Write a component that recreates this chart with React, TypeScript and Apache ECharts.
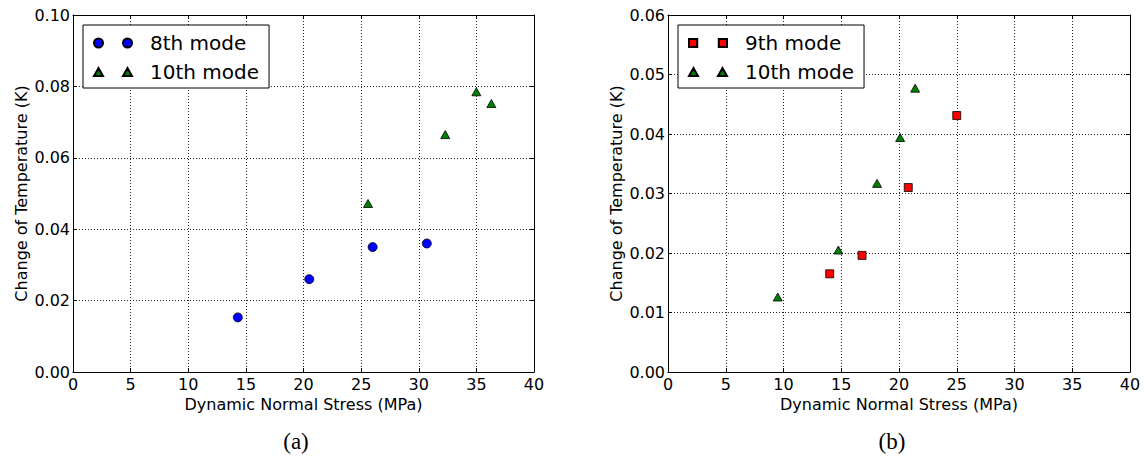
import React, { useEffect, useRef } from "react";
import * as echarts from "echarts";

// ---- data ----
const xTicksMax = 40;
const xInterval = 5;
const leftYMax = 0.1;
const leftYInterval = 0.02;
const rightYMax = 0.06;
const rightYInterval = 0.01;

const leftMode8: [number, number][] = [
  [14.3, 0.0153],
  [20.5, 0.026],
  [26.0, 0.035],
  [30.7, 0.036],
];
const leftMode10: [number, number][] = [
  [25.6, 0.0472],
  [32.3, 0.0665],
  [35.0, 0.0785],
  [36.3, 0.0752],
];
const rightMode9: [number, number][] = [
  [14.0, 0.0165],
  [16.8, 0.0196],
  [20.8, 0.031],
  [25.0, 0.0431],
];
const rightMode10: [number, number][] = [
  [9.5, 0.0126],
  [14.75, 0.0205],
  [18.1, 0.0317],
  [20.1, 0.0394],
  [21.4, 0.0477],
];

const xTitle = "Dynamic Normal Stress (MPa)";
const yTitle = "Change of Temperature (K)";
const captions = ["(a)", "(b)"];

const FONT = "DejaVu Sans";

const circlesIcon =
  "path://M0,4.5a4.5,4.5 0 1,0 9,0a4.5,4.5 0 1,0 -9,0M29,4.5a4.5,4.5 0 1,0 9,0a4.5,4.5 0 1,0 -9,0";
const trianglesIcon = "path://M0,8L4.5,0L9,8ZM29,8L33.5,0L38,8Z";
const squaresIcon = "path://M0.5,0h8v8h-8ZM29.5,0h8v8h-8Z";

function axisPair(gridIndex: number, yMax: number, yInterval: number) {
  const tick = { show: true, inside: true, length: 4, lineStyle: { color: "#000", width: 1 } };
  const line = { show: true, onZero: false, lineStyle: { color: "#000", width: 1 } };
  const split = { show: true, lineStyle: { color: "#222", width: 1, type: [1, 2] } };
  const labelStyle = { color: "#000", fontFamily: FONT, fontSize: 16 };
  const xs = [
    {
      type: "value",
      gridIndex,
      min: 0,
      max: xTicksMax,
      interval: xInterval,
      position: "bottom",
      axisLine: line,
      axisTick: tick,
      splitLine: split,
      axisLabel: { ...labelStyle, margin: 4 },
      name: xTitle,
      nameLocation: "middle",
      nameGap: 21,
      nameTextStyle: { ...labelStyle },
    },
    {
      type: "value",
      gridIndex,
      min: 0,
      max: xTicksMax,
      interval: xInterval,
      position: "top",
      axisLine: line,
      axisTick: tick,
      splitLine: { show: false },
      axisLabel: { show: false },
    },
  ];
  const ys = [
    {
      type: "value",
      gridIndex,
      min: 0,
      max: yMax,
      interval: yInterval,
      position: "left",
      axisLine: line,
      axisTick: tick,
      splitLine: split,
      axisLabel: { ...labelStyle, margin: 3, formatter: (v: number) => v.toFixed(2) },
      name: yTitle,
      nameLocation: "middle",
      nameGap: 44,
      nameTextStyle: { ...labelStyle },
    },
    {
      type: "value",
      gridIndex,
      min: 0,
      max: yMax,
      interval: yInterval,
      position: "right",
      axisLine: line,
      axisTick: tick,
      splitLine: { show: false },
      axisLabel: { show: false },
    },
  ];
  return { xs, ys };
}

export default function App() {
  const ref = useRef<HTMLDivElement>(null);
  useEffect(() => {
    if (!ref.current) return;
    const chart = echarts.init(ref.current, null, { renderer: "svg" });
    const a = axisPair(0, leftYMax, leftYInterval);
    const b = axisPair(1, rightYMax, rightYInterval);
    const markerBorder = { borderColor: "#000", borderWidth: 0.8, opacity: 1 };
    const legendCommon = {
      orient: "vertical",
      top: 25,
      itemWidth: 38,
      itemHeight: 9,
      itemGap: 9,
      padding: [8, 10, 6, 10],
      backgroundColor: "#fff",
      borderColor: "#000",
      borderWidth: 1,
      borderRadius: 0,
      selectedMode: false,
      itemStyle: { opacity: 1 },
      textStyle: { fontFamily: FONT, fontSize: 20, color: "#000", padding: [0, 0, 0, 13] },
    };
    chart.setOption({
      animation: false,
      backgroundColor: "#fff",
      grid: [
        { left: 73, top: 15, width: 461, height: 357 },
        { left: 668, top: 15, width: 462, height: 357 },
      ],
      xAxis: [...a.xs, ...b.xs],
      yAxis: [...a.ys, ...b.ys],
      legend: [
        {
          ...legendCommon,
          left: 83,
          data: [
            { name: "8th mode", icon: circlesIcon },
            { name: "10th mode", icon: trianglesIcon },
          ],
        },
        {
          ...legendCommon,
          left: 678,
          data: [
            { name: "9th mode", icon: squaresIcon },
            { name: "10th mode", icon: trianglesIcon },
          ],
        },
      ],
      series: [
        {
          name: "8th mode",
          type: "scatter",
          xAxisIndex: 0,
          yAxisIndex: 0,
          symbol: "circle",
          symbolSize: 9,
          itemStyle: { color: "#0000ff", ...markerBorder },
          data: leftMode8,
        },
        {
          name: "10th mode",
          type: "scatter",
          xAxisIndex: 0,
          yAxisIndex: 0,
          symbol: "triangle",
          symbolSize: [9, 8],
          itemStyle: { color: "#008000", ...markerBorder },
          data: leftMode10,
        },
        {
          name: "9th mode",
          type: "scatter",
          xAxisIndex: 2,
          yAxisIndex: 2,
          symbol: "rect",
          symbolSize: 8,
          itemStyle: { color: "#ff0000", ...markerBorder },
          data: rightMode9,
        },
        {
          name: "10th mode",
          type: "scatter",
          xAxisIndex: 2,
          yAxisIndex: 2,
          symbol: "triangle",
          symbolSize: [9, 8],
          itemStyle: { color: "#008000", ...markerBorder },
          data: rightMode10,
        },
      ],
      graphic: [
        {
          type: "text",
          x: 296,
          y: 441,
          style: {
            text: captions[0],
            fontFamily: "Liberation Serif",
            fontSize: 23,
            fill: "#000",
            align: "center",
            verticalAlign: "middle",
          },
        },
        {
          type: "text",
          x: 892,
          y: 441,
          style: {
            text: captions[1],
            fontFamily: "Liberation Serif",
            fontSize: 23,
            fill: "#000",
            align: "center",
            verticalAlign: "middle",
          },
        },
      ],
    });
    return () => chart.dispose();
  }, []);
  return (
    <div
      ref={ref}
      style={{ position: "fixed", left: 0, top: 0, width: 1146, height: 458 }}
    />
  );
}
